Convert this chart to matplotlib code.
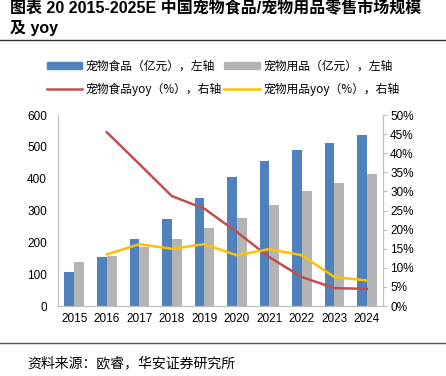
import numpy as np
import matplotlib
matplotlib.use("Agg")
import matplotlib.pyplot as plt
from matplotlib.lines import Line2D
from matplotlib.patches import Patch

plt.rcParams['font.family'] = ['Liberation Sans', 'Noto Sans CJK SC', 'DejaVu Sans']

years = ['2015', '2016', '2017', '2018', '2019', '2020', '2021', '2022', '2023', '2024']
food = [107, 155, 212, 273, 340, 404, 455, 490, 513, 536]
supplies = [139, 158, 184, 211, 245, 277, 319, 361, 387, 414]
food_yoy = [None, 45.5, 37.2, 28.8, 25.5, 19.4, 12.8, 7.6, 4.7, 4.5]
supplies_yoy = [None, 13.5, 16.2, 15.0, 16.2, 13.3, 14.9, 13.3, 7.6, 6.7]

title1 = '图表 20 2015-2025E 中国宠物食品/宠物用品零售市场规模'
title2 = '及 yoy'
labels = ['宠物食品（亿元），左轴', '宠物用品（亿元），左轴',
          '宠物食品yoy（%），右轴', '宠物用品yoy（%），右轴']
source = '资料来源：欧睿，华安证券研究所'

blue = '#4F81BD'
gray = '#B4B4B4'
red = '#C0504D'
yellow = '#FFC000'

fig = plt.figure(figsize=(4.46, 3.76), dpi=100)
ax = fig.add_axes([0.130, 0.186, 0.729, 0.508])
ax2 = ax.twinx()

x = np.arange(len(years))
w = 0.3
ax.bar(x - w / 2, food, w, color=blue, zorder=2)
ax.bar(x + w / 2, supplies, w, color=gray, zorder=2)

xf = [i for i, v in enumerate(food_yoy) if v is not None]
ax2.plot(xf, [food_yoy[i] for i in xf], color=red, lw=1.8)
xs = [i for i, v in enumerate(supplies_yoy) if v is not None]
ax2.plot(xs, [supplies_yoy[i] for i in xs], color=yellow, lw=1.8)

ax.set_xlim(-0.5, len(years) - 0.5)
ax.set_ylim(0, 600)
ax.set_yticks(range(0, 601, 100))
ax.set_xticks(x)
ax.set_xticklabels(years)
ax2.set_ylim(0, 50)
ax2.set_yticks(range(0, 51, 5))
ax2.set_yticklabels([f'{v}%' for v in range(0, 51, 5)])

for a in (ax, ax2):
    for s in a.spines.values():
        s.set_color('#BFBFBF')
    a.spines['top'].set_visible(False)
    a.tick_params(labelsize=8.5, colors='#BFBFBF', labelcolor='black')
ax.tick_params(axis='y', length=0, pad=8)
ax.tick_params(axis='x', length=0, pad=5)
ax2.tick_params(axis='y', length=3, pad=2)

# legend fills row-wise in the reference, so interleave for ncol=2
handles = [Patch(color=blue), Line2D([], [], color=red, lw=1.8),
           Patch(color=gray), Line2D([], [], color=yellow, lw=1.8)]
order = [labels[0], labels[2], labels[1], labels[3]]
fig.legend(handles, order, loc='center', bbox_to_anchor=(0.50, 0.793),
           ncol=2, frameon=False, handlelength=3.0,
           handleheight=0.55, columnspacing=0.2, handletextpad=0.3,
           labelspacing=0.85, prop={'family': ['Noto Sans CJK SC'], 'size': 8.5})

fig.text(0.022, 1 - 12 / 376, title1, fontsize=11.5, fontweight='bold', va='baseline',
         ha='left', family=['Liberation Sans', 'Noto Sans CJK SC'])
fig.text(0.022, 1 - 33 / 376, title2, fontsize=11.5, fontweight='bold', va='baseline',
         ha='left', family=['Liberation Sans', 'Noto Sans CJK SC'])
fig.add_artist(Line2D([0, 1], [1 - 40 / 376, 1 - 40 / 376], color='#333333', lw=1))
fig.add_artist(Line2D([0, 1], [1 - 343 / 376, 1 - 343 / 376], color='#555555', lw=1))
fig.text(27 / 446, 1 - 363 / 376, source, fontsize=10, va='center', ha='left',
         family=['Noto Sans CJK SC'])

fig.savefig('out.png', dpi=100)
